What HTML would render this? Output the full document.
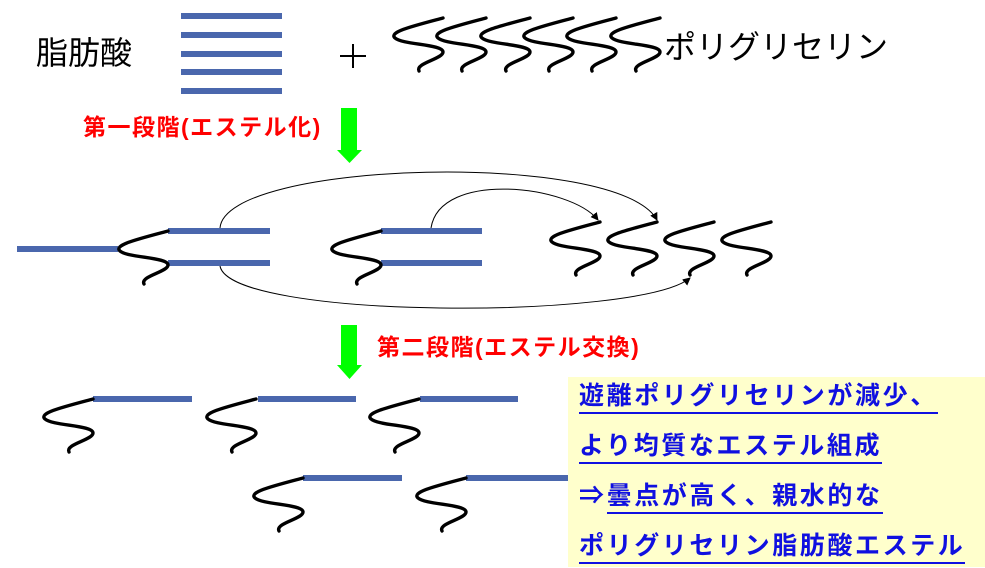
<!DOCTYPE html>
<html><head><meta charset="utf-8"><style>
body{margin:0;background:#fff;width:985px;height:568px;overflow:hidden;position:relative;font-family:"Liberation Sans","Noto Sans CJK JP",sans-serif}
.t{position:absolute;white-space:nowrap;line-height:1}
.r{color:#f00;font-weight:bold;font-size:23px;letter-spacing:1.5px}
.box{position:absolute;left:568px;top:377px;width:417px;height:190px;background:#ffffcc}
.b{position:absolute;left:11px;color:#1010e0;font-weight:bold;font-size:25px;letter-spacing:2.6px;line-height:1;white-space:nowrap}
.b u{text-decoration:none;border-bottom:2px solid #1010e0;padding-bottom:2px}
</style></head><body>
<svg width="985" height="568" style="position:absolute;left:0;top:0">
<defs>
<path id="s" d="M0,0 C-30,8 -55,14 -48,20 C-40,27 0,26 0,34 C0,41 -28,45 -24,53" fill="none" stroke="#000" stroke-width="3.4" stroke-linecap="round"/>
<marker id="a" markerWidth="8" markerHeight="8" refX="7" refY="4" orient="auto" markerUnits="userSpaceOnUse"><path d="M0,0 L8,4 L0,8 Z" fill="#000"/></marker>
</defs>
<g fill="#4a67ad">
<rect x="181" y="13" width="101" height="6"/><rect x="181" y="32" width="101" height="6"/><rect x="181" y="51" width="101" height="6"/><rect x="181" y="69" width="101" height="6"/><rect x="181" y="88" width="101" height="6"/>
<rect x="17" y="246" width="101" height="6"/>
<rect x="168" y="228" width="102" height="6"/><rect x="168" y="260" width="102" height="6"/>
<rect x="381" y="228" width="101" height="6"/><rect x="381" y="260" width="101" height="6"/>
<rect x="93" y="396" width="99" height="6"/><rect x="258" y="396" width="98" height="6"/><rect x="420" y="396" width="98" height="6"/>
<rect x="303" y="475" width="99" height="6"/><rect x="466" y="475" width="102" height="6"/>
</g>
<g>
<use href="#s" x="443" y="18"/><use href="#s" x="486" y="18"/><use href="#s" x="530" y="18"/><use href="#s" x="573" y="18"/><use href="#s" x="616" y="18"/><use href="#s" x="660" y="18"/>
<use href="#s" x="168" y="231"/><use href="#s" x="381" y="231"/>
<use href="#s" x="600" y="222"/><use href="#s" x="657" y="222"/><use href="#s" x="714" y="222"/><use href="#s" x="771" y="222"/>
<use href="#s" x="93" y="399"/><use href="#s" x="256" y="399"/><use href="#s" x="419" y="399"/>
<use href="#s" x="303" y="478"/><use href="#s" x="466" y="478"/>
</g>
<g fill="none" stroke="#000" stroke-width="1">
<path d="M220,228 C225,160 620,150 657,220" marker-end="url(#a)"/>
<path d="M431,228 C440,170 570,185 598,220" marker-end="url(#a)"/>
<path d="M220,266 C230,320 640,320 690,278" marker-end="url(#a)"/>
</g>
<g fill="#00ff00">
<rect x="341" y="108" width="16" height="43"/><path d="M337,150 L362,150 L349.5,163 Z"/>
<rect x="341" y="325" width="16" height="41"/><path d="M337,365 L362,365 L349.5,379 Z"/>
</g>
<g stroke="#000" stroke-width="2"><line x1="340" y1="56" x2="366" y2="56"/><line x1="353" y1="44" x2="353" y2="68"/></g>
</svg>
<div class="t" style="left:36px;top:37px;font-size:32px">脂肪酸</div>
<div class="t" style="left:664px;top:31px;font-size:32px">ポリグリセリン</div>
<div class="t r" style="left:83px;top:116px">第一段階(エステル化)</div>
<div class="t r" style="left:377px;top:336px">第二段階(エステル交換)</div>
<div class="box">
<div class="b" style="top:7px"><u>遊離ポリグリセリンが減少、</u></div>
<div class="b" style="top:57px"><u>より均質なエステル組成</u></div>
<div class="b" style="top:107px">⇒<u>曇点が高く、親水的な</u></div>
<div class="b" style="top:157px"><u>ポリグリセリン脂肪酸エステル</u></div>
</div>
</body></html>
